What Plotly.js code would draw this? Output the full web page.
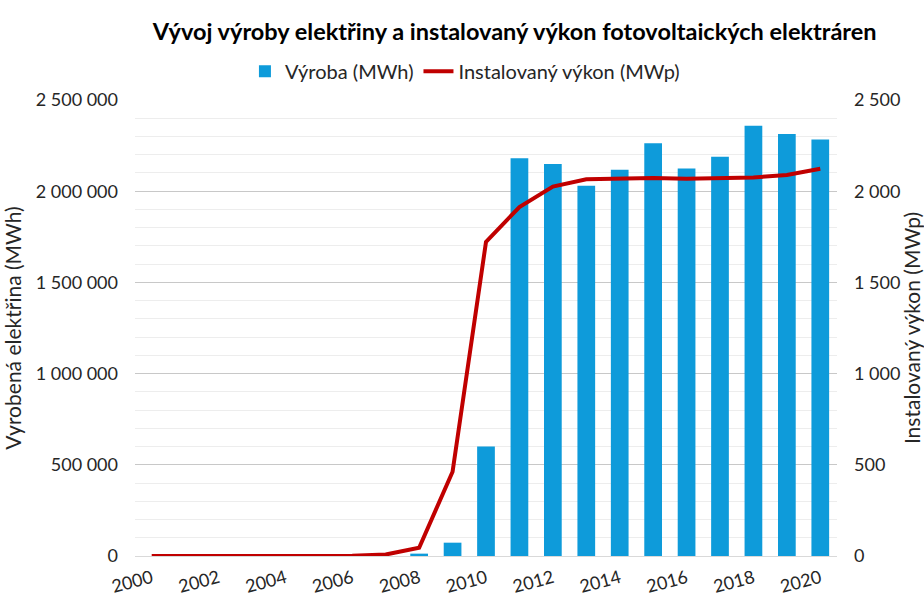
<!DOCTYPE html>
<html>
<head>
<meta charset="utf-8">
<script src="https://cdn.plot.ly/plotly-3.0.1.min.js"></script>
<style>html,body{margin:0;padding:0;background:#fff;}#chart{width:924px;height:603px;}</style>
</head>
<body>
<div id="chart"></div>
<script>
const years = [2000,2001,2002,2003,2004,2005,2006,2007,2008,2009,2010,2011,2012,2013,2014,2015,2016,2017,2018,2019,2020];
const vyroba = [0,0,0,0,0,0,0,0,12937,73000,600000,2180000,2149000,2030000,2117000,2263000,2125000,2189000,2359000,2314000,2284000];
const vykon = [0,0,0,0,0,0,1,8,45,462,1722,1913,2025,2065,2067,2073,2068,2071,2075,2089,2123];
const leftTickVals = [0,500000,1000000,1500000,2000000,2500000];
const leftTickText = ['0','500 000','1 000 000','1 500 000','2 000 000','2 500 000'];
const rightTickVals = [0,500,1000,1500,2000,2500];
const rightTickText = ['0','500','1 000','1 500','2 000','2 500'];
const xTickVals = [2000,2002,2004,2006,2008,2010,2012,2014,2016,2018,2020];

const FONT = 'Lato, "Open Sans", sans-serif';
const TXT = '#262626';

const traces = [
  {type:'bar', x:years, y:vyroba, name:'Výroba (MWh)', marker:{color:'#0E9BDA'}, yaxis:'y'},
  {type:'scatter', mode:'lines', x:years, y:vykon, name:'Instalovaný výkon (MWp)', line:{color:'#C00000', width:4}, yaxis:'y2'}
];

const layout = {
  width:924, height:603,
  margin:{l:135, r:87, t:100, b:47},
  paper_bgcolor:'#fff', plot_bgcolor:'#fff',
  font:{family:FONT, color:TXT, size:18},
  bargap:0.47,
  title:{text:'<b>Vývoj výroby elektřiny a instalovaný výkon fotovoltaických elektráren</b>', font:{family:FONT, size:23.5, color:'#000'}, x:0.557, xref:'container', xanchor:'center', y:0.947, yref:'container', yanchor:'middle'},
  legend:{orientation:'h', x:0.47, xanchor:'center', y:1.063, yanchor:'middle', font:{size:20, color:TXT}, itemwidth:30, tracegroupgap:0},
  xaxis:{type:'linear', range:[1999.5,2020.5], tickvals:xTickVals, tickangle:-15, showgrid:false, zeroline:false, showline:true, linecolor:'#D9D9D9', linewidth:1, ticks:'', ticklabelstandoff:4, tickfont:{size:18, color:TXT}},
  yaxis:{range:[0,2500000], tickvals:leftTickVals, ticktext:leftTickText, showgrid:true, gridcolor:'#C8C8C8', gridwidth:1, zeroline:false, ticks:'', ticklabelstandoff:16, tickfont:{size:18, color:TXT},
    minor:{dtick:100000, showgrid:true, gridcolor:'#EDEDED', gridwidth:1},
    title:{text:'Vyrobená elektřina (MWh)', font:{size:21, color:TXT}, standoff:8}},
  yaxis2:{range:[0,2500], overlaying:'y', side:'right', tickvals:rightTickVals, ticktext:rightTickText, showgrid:false, zeroline:false, ticks:'', ticklabelstandoff:16, tickfont:{size:18, color:TXT},
    title:{text:'Instalovaný výkon (MWp)', font:{size:21, color:TXT}, standoff:24}}
};

Plotly.newPlot('chart', traces, layout, {displayModeBar:false, staticPlot:true});
</script>
</body>
</html>
